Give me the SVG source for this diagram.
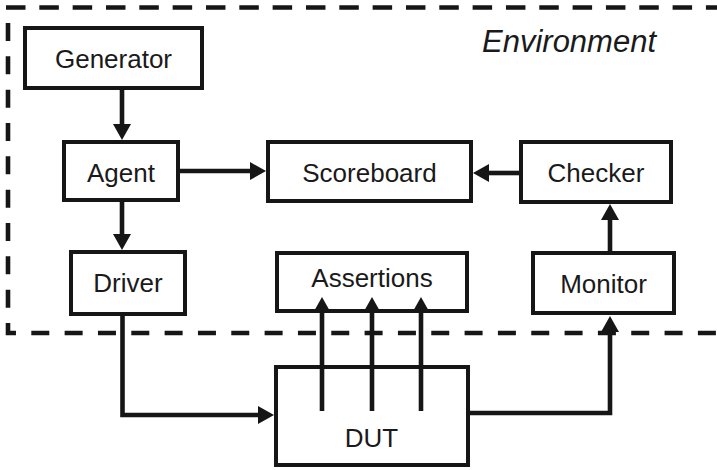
<svg xmlns="http://www.w3.org/2000/svg" width="717" height="470" viewBox="0 0 717 470">
  <style>
    .box { fill: #ffffff; stroke: #161616; stroke-width: 4; }
    .lbl { font-family: "Liberation Sans", Arial, Helvetica, sans-serif; font-size: 26px; fill: #1a1a1a; text-anchor: middle; }
    .env { font-family: "Liberation Sans", Arial, Helvetica, sans-serif; font-size: 31px; font-style: italic; fill: #1a1a1a; }
    .bound { fill: none; stroke: #161616; stroke-width: 4.6; }
    .wire { fill: none; stroke: #161616; stroke-width: 4.6; stroke-linejoin: miter; }
  </style>
  <defs>
    <marker id="head" viewBox="0 0 16 18" refX="1" refY="9" markerWidth="16" markerHeight="18" markerUnits="userSpaceOnUse" orient="auto">
      <path d="M0,0 L16,9 L0,18 Z" fill="#161616"/>
    </marker>
  </defs>

  <!-- dashed environment boundary -->
  <g id="environment">
    <path class="bound" d="M6,7.5 H717" stroke-dasharray="19.5 13.83"/>
    <path class="bound" d="M8,23 V333 H717" stroke-dasharray="18 15.33"/>
    <text class="env" x="482" y="52">Environment</text>
  </g>

  <g id="generator">
    <rect class="box" x="25" y="28" width="177" height="60"/>
    <text class="lbl" x="113.5" y="68">Generator</text>
  </g>
  <g id="agent">
    <rect class="box" x="64" y="142" width="114" height="58"/>
    <text class="lbl" x="121" y="181.5">Agent</text>
  </g>
  <g id="driver">
    <rect class="box" x="71" y="252" width="114" height="62"/>
    <text class="lbl" x="128" y="291.5">Driver</text>
  </g>
  <g id="scoreboard">
    <rect class="box" x="268" y="142" width="203" height="59"/>
    <text class="lbl" x="369.5" y="182">Scoreboard</text>
  </g>
  <g id="checker">
    <rect class="box" x="521" y="142" width="150" height="60"/>
    <text class="lbl" x="596" y="181.5">Checker</text>
  </g>
  <g id="assertions">
    <rect class="box" x="277" y="253" width="190" height="58"/>
    <text class="lbl" x="372" y="286.5">Assertions</text>
  </g>
  <g id="monitor">
    <rect class="box" x="533" y="253" width="141" height="60"/>
    <text class="lbl" x="603.5" y="293">Monitor</text>
  </g>
  <g id="dut">
    <rect class="box" x="276" y="367" width="192" height="98"/>
    <text class="lbl" x="371.5" y="447">DUT</text>
  </g>

  <!-- connectors -->
  <g id="connectors">
    <path class="wire" d="M122,90 V125" marker-end="url(#head)"/>
    <path class="wire" d="M122,202 V235" marker-end="url(#head)"/>
    <path class="wire" d="M180,171 H251" marker-end="url(#head)"/>
    <path class="wire" d="M519,173 H488" marker-end="url(#head)"/>
    <path class="wire" d="M610,251 V219" marker-end="url(#head)"/>
    <path class="wire" d="M470,413 H610 V331" marker-end="url(#head)"/>
    <path class="wire" d="M122.5,316 V415 H259" marker-end="url(#head)"/>
    <path class="wire" d="M322,411 V312" marker-end="url(#head)"/>
    <path class="wire" d="M372,411 V312" marker-end="url(#head)"/>
    <path class="wire" d="M421,411 V312" marker-end="url(#head)"/>
  </g>
</svg>
